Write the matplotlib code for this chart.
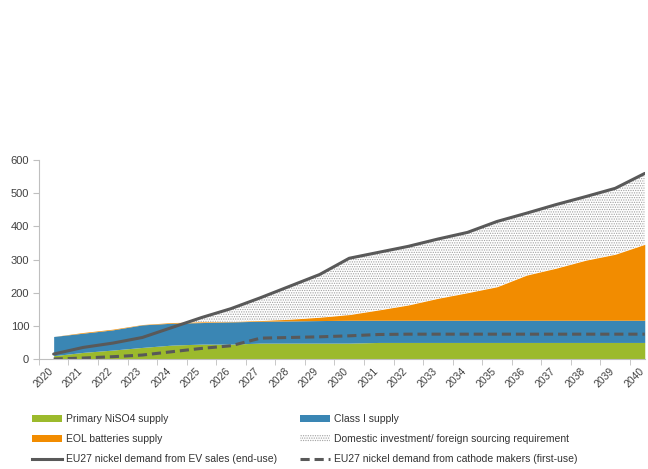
import numpy as np
import matplotlib
matplotlib.use('Agg')
import matplotlib.pyplot as plt
from matplotlib.patches import Patch
from matplotlib.lines import Line2D

plt.rcParams['font.family'] = ['Liberation Sans Narrow', 'Liberation Sans', 'DejaVu Sans']
plt.rcParams['hatch.color'] = '#a0a0a0'
plt.rcParams['hatch.linewidth'] = 0.6

years = [str(y) for y in range(2020, 2041)]
primary = [10, 20, 27, 35, 42, 45, 45, 48, 48, 48, 48, 50, 50, 50, 50, 50, 50, 50, 50, 50, 50]
class1_top = [68, 78, 88, 103, 108, 110, 112, 114, 115, 116, 117, 117, 117, 117, 117, 117, 117, 117, 117, 117, 117]
eol_top = [68, 80, 90, 104, 110, 112, 113, 116, 120, 126, 134, 148, 163, 183, 200, 218, 253, 274, 298, 316, 346]
demand_ev = [15, 35, 48, 65, 95, 125, 152, 185, 220, 255, 304, 322, 340, 362, 382, 415, 440, 466, 490, 515, 560]
demand_cathode = [0, 3, 7, 12, 22, 32, 40, 63, 65, 67, 70, 74, 75, 75, 75, 75, 75, 75, 75, 75, 75]

GREEN = '#9cba2c'
BLUE = '#3a86b4'
ORANGE = '#f28c00'
LINE = '#595959'
AXIS = '#bfbfbf'

x = np.arange(len(years))
primary = np.array(primary)
class1_top = np.array(class1_top)
eol_top = np.array(eol_top)
demand_ev = np.array(demand_ev)

fig = plt.figure(figsize=(6.48, 4.69), dpi=100)
ax = fig.add_axes([0.060, 0.2345, 0.935, 0.424])

ax.fill_between(x, 0, primary, color=GREEN, lw=0)
ax.fill_between(x, primary, class1_top, color=BLUE, lw=0)
ax.fill_between(x, class1_top, eol_top, color=ORANGE, lw=0)
ax.fill_between(x, eol_top, demand_ev, where=demand_ev > eol_top, interpolate=True,
                facecolor='white', hatch='.......', edgecolor='#a0a0a0', lw=0)
ax.plot(x, demand_ev, color=LINE, lw=2.2, solid_capstyle='round')
ax.plot(x, demand_cathode, color=LINE, lw=2.2, ls=(0, (3, 1.6)))

ax.set_xlim(-0.5, 20)
ax.set_ylim(0, 600)
ax.set_yticks(range(0, 601, 100))
# labels sit a little left of the category centre, like the original
ax.set_xticks(x - 0.2)
ax.set_xticklabels(years, rotation=45, ha='right', rotation_mode='anchor', fontsize=7.5, color='#404040')
ax.set_xticks(np.arange(-0.5, 20.5, 1), minor=True)
ax.tick_params(axis='x', which='major', length=0, pad=5)
ax.tick_params(axis='x', which='minor', length=4, color=AXIS)
ax.tick_params(axis='y', length=4, color=AXIS, labelsize=8, labelcolor='#404040', pad=3)
for s in ['top', 'right']:
    ax.spines[s].set_visible(False)
for s in ['left', 'bottom']:
    ax.spines[s].set_color(AXIS)

handles = [
    Patch(facecolor=GREEN, edgecolor='none', label='Primary NiSO4 supply'),
    Patch(facecolor=ORANGE, edgecolor='none', label='EOL batteries supply'),
    Line2D([0], [0], color=LINE, lw=2.2, label='EU27 nickel demand from EV sales (end-use)'),
    Patch(facecolor=BLUE, edgecolor='none', label='Class I supply'),
    Patch(facecolor='white', edgecolor='#a0a0a0', hatch='.......', lw=0,
          label='Domestic investment/ foreign sourcing requirement'),
    Line2D([0], [0], color=LINE, lw=2.2, ls=(0, (3, 1.6)), label='EU27 nickel demand from cathode makers (first-use)'),
]
fig.legend(handles=handles, ncol=2, loc='upper left', bbox_to_anchor=(0.043, 0.126),
           frameon=False, fontsize=7.5, handlelength=2.9, handleheight=0.55, handletextpad=0.35,
           columnspacing=2.2, labelspacing=0.98, labelcolor='#333333', borderaxespad=0)

fig.savefig('out.png', dpi=100)
